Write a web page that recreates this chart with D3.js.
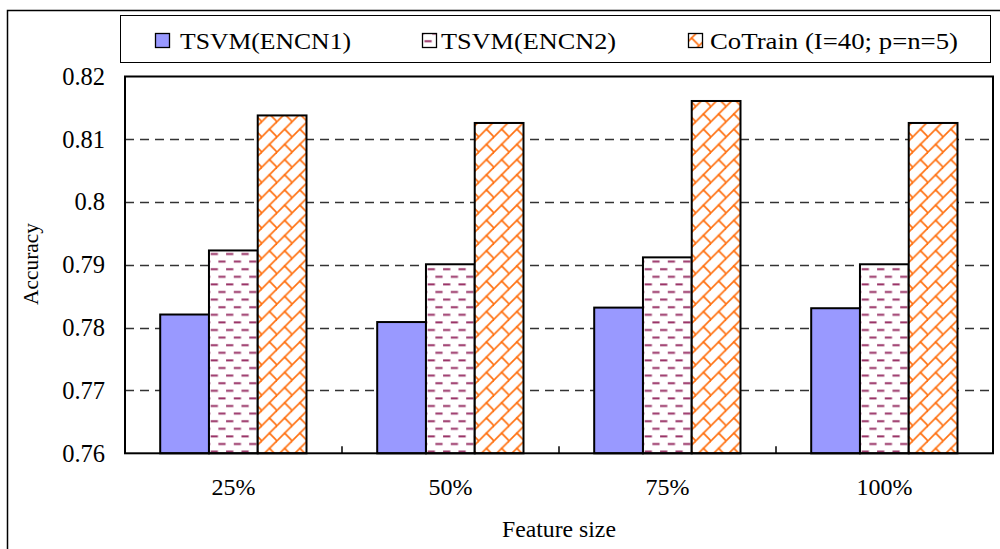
<!DOCTYPE html>
<html>
<head>
<meta charset="utf-8">
<script src="https://cdn.jsdelivr.net/npm/d3@7"></script>
<style>
  html, body { margin: 0; padding: 0; background: #fff; }
  svg { display: block; }
  text { font-family: "Liberation Serif", "Times New Roman", Times, Tinos, "Nimbus Roman", "Nimbus Roman No9 L", FreeSerif, "Noto Serif", serif; fill: #000; }
</style>
</head>
<body>
<svg id="chart" width="1000" height="549"></svg>
<script>
// ---- data ----
const categories = ["25%", "50%", "75%", "100%"];
const seriesNames = ["TSVM(ENCN1)", "TSVM(ENCN2)", "CoTrain (I=40; p=n=5)"];
const tsvm1 = [0.7821, 0.7809, 0.7832, 0.7831];
const tsvm2 = [0.7923, 0.7901, 0.7912, 0.7901];
const cotrain = [0.8138, 0.8126, 0.8161, 0.8126];
const yTickValues = [0.76, 0.77, 0.78, 0.79, 0.80, 0.81, 0.82];
const yTickLabels = ["0.76", "0.77", "0.78", "0.79", "0.8", "0.81", "0.82"];
const xTitle = "Feature size";
const yTitle = "Accuracy";

const seriesValues = [tsvm1, tsvm2, cotrain];

// Times-like advance widths (em) to keep text widths independent of the available font
const TW = { "0":.5,"1":.5,"2":.5,"3":.5,"4":.5,"5":.5,"6":.5,"7":.5,"8":.5,"9":.5,
  ".":.25,"%":.833," ":.25,"F":.556,"e":.444,"a":.444,"t":.278,"u":.5,"r":.333,"s":.389,
  "i":.278,"z":.444,"A":.722,"c":.444,"y":.5 };
const timesWidth = (s, fs) => Array.from(s).reduce((a, ch) => a + (TW[ch] || .5), 0) * fs;

// detect whether a Times-metric font is present; if not, shrink glyph size a bit
const cv = document.createElement("canvas").getContext("2d");
cv.font = '100px "Liberation Serif", "Times New Roman", Times, Tinos, "Nimbus Roman", serif';
const wA = cv.measureText("0.82 Feature size").width;
const timesOk = Math.abs(wA - timesWidth("0.82 Feature size", 100)) < 40;
const fsScale = timesOk ? 1 : 0.91;

const svg = d3.select("#chart");
const defs = svg.append("defs");

// ---- patterns ----
const pDash = defs.append("pattern")
  .attr("id", "pDash").attr("patternUnits", "userSpaceOnUse")
  .attr("width", 15.4).attr("height", 15.2).attr("x", 0).attr("y", 0);
pDash.append("rect").attr("width", 15.4).attr("height", 15.2).attr("fill", "#fff");
[[1, 8.2, 3.2], [8.7, 15.9, 10.8], [-6.7, 0.5, 10.8]].forEach(([a, b, yy]) => {
  pDash.append("line").attr("x1", a).attr("x2", b).attr("y1", yy).attr("y2", yy)
    .attr("stroke", "#993366").attr("stroke-width", 2);
});

const T = 15.2;
const pBrick = defs.append("pattern")
  .attr("id", "pBrick").attr("patternUnits", "userSpaceOnUse")
  .attr("width", T).attr("height", T);
pBrick.append("rect").attr("width", T).attr("height", T).attr("fill", "#fff");
const bg = pBrick.append("g").attr("stroke", "#ff7010").attr("stroke-width", 1.7).attr("stroke-linecap", "square");
bg.append("line").attr("x1", -1).attr("y1", T + 1).attr("x2", T + 1).attr("y2", -1);
bg.append("line").attr("x1", -1).attr("y1", 1).attr("x2", 1).attr("y2", -1);
bg.append("line").attr("x1", T - 1).attr("y1", T + 1).attr("x2", T + 1).attr("y2", T - 1);
bg.append("line").attr("x1", T / 2).attr("y1", T / 2).attr("x2", T).attr("y2", T);

const fills = ["#9999ff", "url(#pDash)", "url(#pBrick)"];

// ---- outer frame ----
svg.append("rect").attr("x", 7.5).attr("y", 10.5).attr("width", 1100).attr("height", 700)
  .attr("fill", "none").attr("stroke", "#000").attr("stroke-width", 1.5);

// ---- scales ----
const plotL = 125, plotR = 993, plotT = 76.5, plotB = 453.3;
const x0 = d3.scaleBand().domain(categories).range([plotL, plotR]).padding(0);
const x1 = d3.scaleBand().domain(seriesNames).range([35.2, 181.5]).padding(0);
const y = d3.scaleLinear().domain([0.76, 0.82]).range([plotB, plotT]);

// gridlines
svg.append("g").selectAll("line")
  .data(yTickValues.filter(v => v > 0.76 + 1e-9 && v < 0.82 - 1e-9))
  .join("line")
  .attr("x1", plotL).attr("x2", plotR)
  .attr("y1", d => Math.round(y(d)) + 0.5).attr("y2", d => Math.round(y(d)) + 0.5)
  .attr("stroke", "#333").attr("stroke-width", 1.3)
  .attr("stroke-dasharray", "9,6");

// bars
const groups = svg.append("g").selectAll("g")
  .data(categories).join("g")
  .attr("transform", d => `translate(${x0(d)},0)`);
groups.selectAll("rect")
  .data((c, ci) => seriesNames.map((s, si) => ({ s, si, v: seriesValues[si][ci] })))
  .join("rect")
  .attr("x", d => x1(d.s))
  .attr("y", d => y(d.v))
  .attr("width", x1.bandwidth())
  .attr("height", d => y(0.76) - y(d.v))
  .attr("fill", d => fills[d.si])
  .attr("stroke", "#000").attr("stroke-width", 2);

// plot frame
svg.append("rect").attr("x", plotL).attr("y", plotT).attr("width", plotR - plotL).attr("height", plotB - plotT)
  .attr("fill", "none").attr("stroke", "#000").attr("stroke-width", 2);

function fitText(sel, fs) {
  sel.attr("font-size", fs * fsScale)
    .attr("textLength", function () { return timesWidth(this.textContent, fs); })
    .attr("lengthAdjust", "spacingAndGlyphs");
}

// x axis
const xAxis = d3.axisBottom(x0).tickSize(0).tickPadding(32);
const gx = svg.append("g").attr("transform", `translate(0,${plotB})`).call(xAxis);
gx.select(".domain").remove();
gx.selectAll("text").attr("dy", "0").attr("y", 42).call(fitText, 24);
svg.append("g").selectAll("line")
  .data(categories.slice(1)).join("line")
  .attr("x1", d => x0(d)).attr("x2", d => x0(d))
  .attr("y1", plotB).attr("y2", plotB - 7)
  .attr("stroke", "#000").attr("stroke-width", 1.5);

// y axis labels
const yAxis = d3.axisLeft(y).tickValues(yTickValues)
  .tickFormat((d, i) => yTickLabels[i]).tickSize(0).tickPadding(20);
const gy = svg.append("g").attr("transform", `translate(${plotL},0)`).call(yAxis);
gy.select(".domain").remove();
gy.selectAll("text").call(fitText, 24.5);

// axis titles
svg.append("text").attr("x", (plotL + plotR) / 2).attr("y", 537)
  .attr("text-anchor", "middle").text(xTitle).call(fitText, 23.7);
svg.append("text").attr("transform", `translate(38,${264}) rotate(-90)`)
  .attr("text-anchor", "middle").text(yTitle).call(fitText, 21.4);

// legend
svg.append("rect").attr("x", 120.5).attr("y", 15.5).attr("width", 870).attr("height", 47)
  .attr("fill", "#fff").attr("stroke", "#000").attr("stroke-width", 1);
const legendX = [155, 422, 688];
const legendTextX = [180, 441, 710];
const legendTextW = [171, 175, 248];
const lg = svg.append("g").selectAll("g").data(seriesNames).join("g");
lg.append("rect")
  .attr("x", (d, i) => legendX[i] + 0.5).attr("y", 33.5)
  .attr("width", 14).attr("height", 14)
  .attr("fill", (d, i) => fills[i]).attr("stroke", "#000").attr("stroke-width", 1.3);
lg.append("text")
  .attr("x", (d, i) => legendTextX[i]).attr("y", 49)
  .attr("font-size", 24 * fsScale)
  .attr("textLength", (d, i) => legendTextW[i])
  .attr("lengthAdjust", "spacingAndGlyphs")
  .text(d => d);
</script>
</body>
</html>
